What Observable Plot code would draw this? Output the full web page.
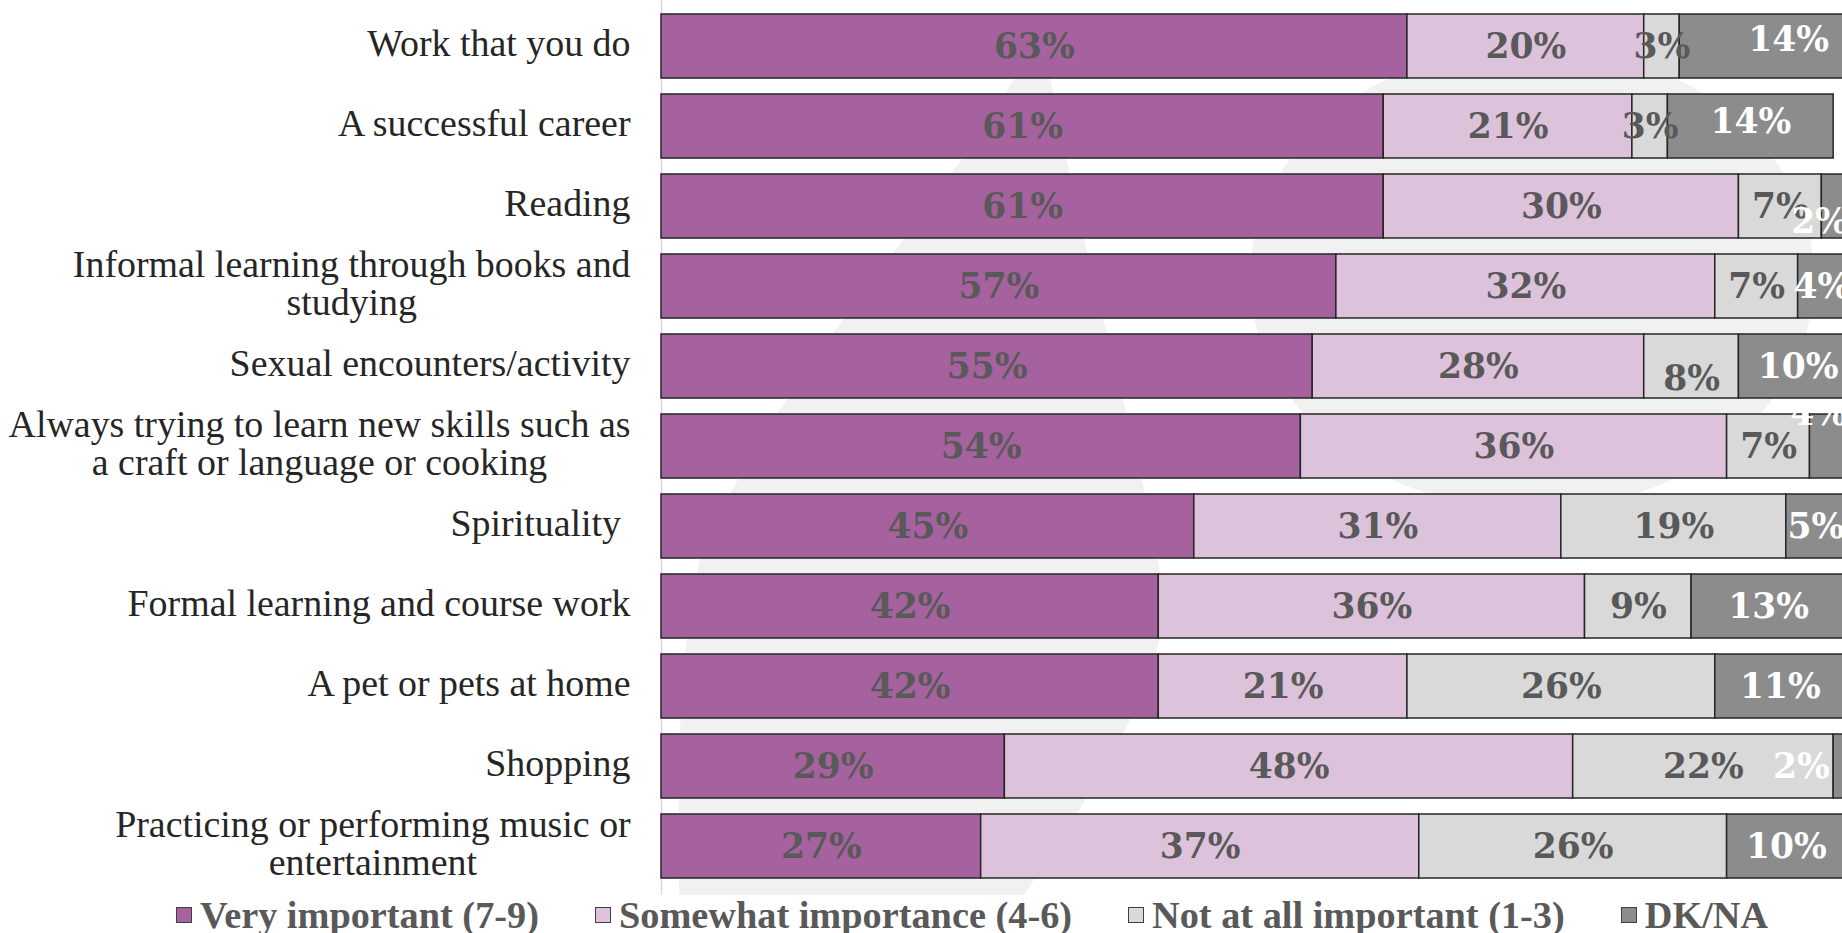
<!DOCTYPE html>
<html><head><meta charset="utf-8">
<script src="https://cdn.jsdelivr.net/npm/d3@7"></script>
<script src="https://cdn.jsdelivr.net/npm/@observablehq/plot@0.6"></script>
<style>
html,body{margin:0;padding:0;background:#fff;overflow:hidden;width:1842px;height:933px;}
#chart{position:absolute;left:0;top:0;}
#legend{position:absolute;left:176px;top:894px;height:42px;display:flex;align-items:center;gap:56px;font-family:"Liberation Serif",serif;font-weight:bold;font-size:38.3px;line-height:42px;color:#595959;white-space:nowrap;}
.item{display:flex;align-items:center;gap:8px;}
.sw{width:16px;height:16px;border:1.5px solid #404040;box-sizing:border-box;}
</style></head><body>
<div id="chart"></div><div id="legend"></div>
<script>
const categories = [
  "Work that you do",
  "A successful career",
  "Reading",
  "Informal learning through books and\nstudying",
  "Sexual encounters/activity",
  "Always trying to learn new skills such as\na craft or language or cooking",
  "Spirituality\u00a0",
  "Formal learning and course work",
  "A pet or pets at home",
  "Shopping",
  "Practicing or performing music or\nentertainment"
];
const seriesNames = ["Very important (7-9)", "Somewhat importance (4-6)", "Not at all important (1-3)", "DK/NA"];
const veryImportant = [63, 61, 61, 57, 55, 54, 45, 42, 42, 29, 27];
const somewhatImportant = [20, 21, 30, 32, 28, 36, 31, 36, 21, 48, 37];
const notAtAllImportant = [3, 3, 7, 7, 8, 7, 19, 9, 26, 22, 26];
const dkna = [14, 14, 2, 4, 10, 4, 5, 13, 11, 2, 10];
const seriesColors = ["#A5629F", "#DDC2DC", "#D9D9D9", "#8C8C8C"];

const seriesValues = [veryImportant, somewhatImportant, notAtAllImportant, dkna];
const data = [];
categories.forEach((c, i) => seriesValues.forEach((vals, s) => data.push({category: c, series: seriesNames[s], value: vals[i]})));

const DK = "DK/NA";
const isCat = (d, start) => d.category.startsWith(start);
// labels that the original chart nudges away from the segment centre
const nudged = [
  {cat: "Work", series: DK, fill: "white", dx: 26, dy: -7},
  {cat: "A successful", series: DK, fill: "white", dx: 0, dy: -5},
  {cat: "Sexual", series: seriesNames[2], fill: "#595959", dx: 0, dy: 12},
  {cat: "Reading", series: DK, fill: "white", dx: -14, dy: 15},
  {cat: "Always", series: DK, fill: "white", dx: -15, dy: -33},
  {cat: "Shopping", series: DK, fill: "white", dx: -44, dy: 0}
];
const isNudged = d => nudged.some(n => isCat(d, n.cat) && d.series === n.series);
const fmt = d => d.value + "%";
const labelStyle = {fontFamily: "DejaVu Serif", fontWeight: "bold", fontSize: 34.5};
const st = text => Plot.stackX({x: "value", y: "category", z: "series", text});

// faint decorative watermark behind the bars
const watermark = () => {
  const g = d3.create("svg:g").attr("fill", "#f1f1f1");
  g.append("path").attr("d", "M1028,55 C930,230 770,380 700,560 C680,640 676,760 680,933 L1000,933 C1070,820 1150,720 1165,610 C1150,470 1090,300 1046,55 Z");
  g.append("ellipse").attr("cx", 1532).attr("cy", 278).attr("rx", 282).attr("ry", 232);
  return g.node();
};

const chart = Plot.plot({
  width: 1842,
  height: 895,
  marginLeft: 661,
  marginRight: 0,
  marginTop: 0,
  marginBottom: 0,
  x: {domain: [0, 100], range: [661, 1845], axis: null},
  y: {domain: categories, range: [-4.4, 897.2], padding: 0.2, axis: null},
  color: {domain: seriesNames, range: seriesColors},
  marks: [
    watermark,
    Plot.ruleX([0], {stroke: "#d9d9d9", strokeWidth: 1.5}),
    Plot.barX(data, {x: "value", y: "category", fill: "series", z: "series", stroke: "#262626", strokeWidth: 1.5}),
    Plot.text(data, {...st(d => (d.series !== DK && !isNudged(d)) ? fmt(d) : null), fill: "#595959", ...labelStyle}),
    Plot.text(data, {...st(d => (d.series === DK && !isNudged(d)) ? fmt(d) : null), fill: "white", ...labelStyle}),
    ...nudged.map(n => Plot.text(data, {
      ...st(d => (isCat(d, n.cat) && d.series === n.series) ? fmt(d) : null),
      fill: n.fill, dx: n.dx, dy: n.dy, ...labelStyle
    })),
    Plot.axisY({tickSize: 0, tickPadding: 31, dy: -3, fontSize: 37.9, fontFamily: "Liberation Serif", fill: "#262626", lineHeight: 1.02, label: null})
  ]
});
document.getElementById("chart").appendChild(chart);

// centre the lines of wrapped category labels within their right-aligned block
chart.querySelectorAll('g[aria-label="y-axis tick label"] text').forEach(t => {
  const ts = t.querySelectorAll("tspan");
  if (ts.length > 1) {
    const bb = t.getBBox();
    t.setAttribute("text-anchor", "middle");
    ts.forEach(s => s.setAttribute("x", bb.x + bb.width / 2));
  }
});

const legend = document.getElementById("legend");
seriesNames.forEach((name, i) => {
  const item = document.createElement("div");
  item.className = "item";
  const sw = document.createElement("div");
  sw.className = "sw";
  sw.style.background = seriesColors[i];
  const label = document.createElement("span");
  label.textContent = name;
  item.appendChild(sw);
  item.appendChild(label);
  legend.appendChild(item);
});
</script>
</body></html>
